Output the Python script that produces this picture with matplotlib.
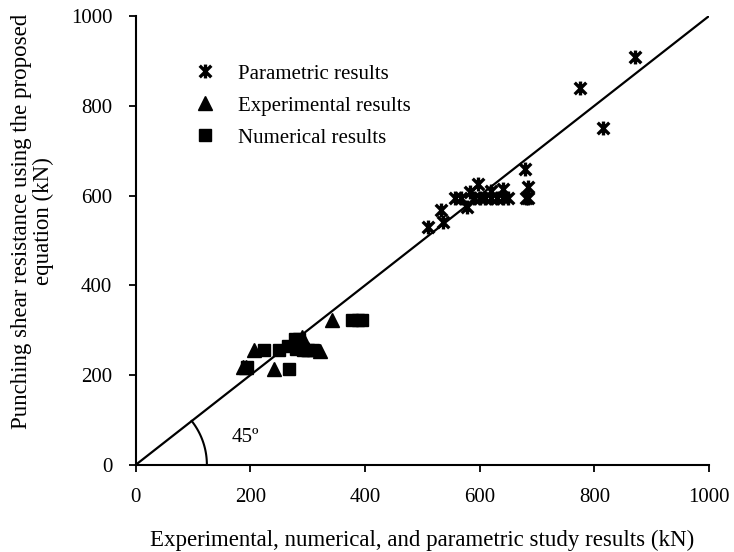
"""
Proposed equation vs experimental, numerical and parametric
punching shear results, with the 45 degree equality line.
"""

import numpy as np
import matplotlib
matplotlib.use("Agg")
import matplotlib.pyplot as plt
from matplotlib.path import Path

plt.rcParams['font.family'] = ['Liberation Serif', 'DejaVu Serif']
plt.rcParams['font.size'] = 15

# parametric study results (kN)
par_x = [510, 536, 532, 557, 568, 577, 597, 583, 590, 600, 610, 620, 630, 640, 650,
         641, 620, 679, 685, 685, 680, 775, 815, 870]
par_y = [530, 540, 568, 595, 595, 575, 625, 608, 595, 595, 595, 595, 595, 595, 595,
         615, 610, 660, 620, 595, 595, 840, 750, 908]

# experimental results (kN)
exp_x = [187, 193, 206, 241, 290, 300, 321, 343]
exp_y = [217, 219, 255, 213, 285, 258, 254, 322]

# numerical results (kN)
num_x = [194, 224, 250, 265, 268, 277, 285, 280, 292, 300, 310, 378, 388, 395]
num_y = [219, 255, 255, 265, 213, 280, 280, 258, 256, 256, 255, 322, 322, 322]

ticks = [0, 200, 400, 600, 800, 1000]

# excel-like star marker: X with a vertical bar
star = Path([(-1, -1), (1, 1), (-1, 1), (1, -1), (0, -1.2), (0, 1.2)],
            [Path.MOVETO, Path.LINETO] * 3)

fig = plt.figure(figsize=(7.34, 5.52), dpi=100)
ax = fig.add_axes([0.185, 0.158, 0.781, 0.813])

ax.plot(par_x, par_y, linestyle='none', marker=star, markersize=10,
        markeredgewidth=2.4, color='black', label='Parametric results')
ax.plot(exp_x, exp_y, linestyle='none', marker='^', markersize=9.5,
        color='black', label='Experimental results')
ax.plot(num_x, num_y, linestyle='none', marker='s', markersize=8,
        color='black', label='Numerical results')

# equality line
ax.plot([0, 1000], [0, 1000], color='black', lw=1.6, zorder=1)

# angle arc (circular on screen)
rx, ry = 124, 158
t = np.linspace(0, np.arctan(rx / ry), 50)
ax.plot(rx * np.cos(t), ry * np.sin(t), color='black', lw=1.5)
ax.text(168, 60, '45º', fontsize=15, va='center', ha='left')

ax.set_xlim(0, 1000)
ax.set_ylim(0, 1000)
ax.set_xticks(ticks)
ax.set_yticks(ticks)
ax.tick_params(direction='out', length=5, width=1.3, pad=12)
for s in ['top', 'right']:
    ax.spines[s].set_visible(False)
for s in ['left', 'bottom']:
    ax.spines[s].set_linewidth(1.5)

ax.set_xlabel('Experimental, numerical, and parametric study results (kN)',
              fontsize=16.5, labelpad=16)
ax.set_ylabel('Punching shear resistance using the proposed\nequation (kN)',
              fontsize=16.5, linespacing=1.05)
ax.yaxis.set_label_coords(-0.143, 0.543)

ax.legend(loc='upper left', bbox_to_anchor=(0.07, 0.935), frameon=False, fontsize=15,
          handlelength=1.0, handletextpad=1.1, labelspacing=0.6, numpoints=1)

fig.savefig('out.png', dpi=100)
